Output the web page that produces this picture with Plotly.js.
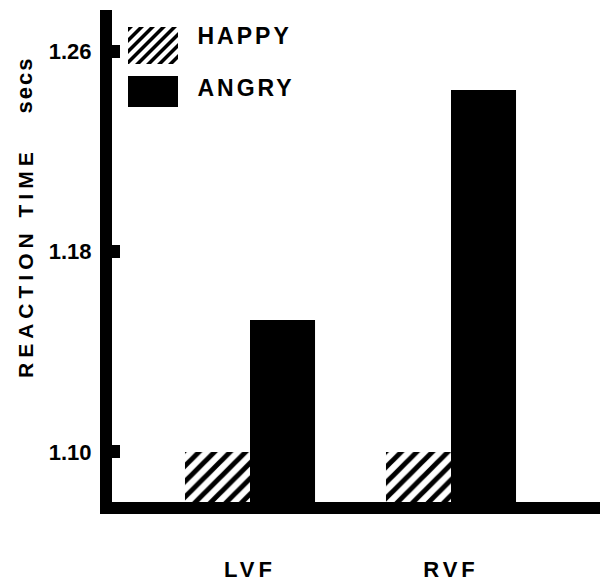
<!DOCTYPE html>
<html><head><meta charset="utf-8">
<script src="https://cdn.plot.ly/plotly-3.0.1.min.js"></script>
<style>
body{margin:0;background:#fff}
.xtick text{letter-spacing:4px}
g.annotation[data-index="0"] text{letter-spacing:5px}
g.annotation[data-index="1"] text{letter-spacing:2px}
g.annotation[data-index="2"] text{letter-spacing:3px}
g.annotation[data-index="3"] text{letter-spacing:3px}
</style></head><body>
<div id="chart" style="width:602px;height:583px"></div>
<script>
// ---- data ----
const categories = ['LVF', 'RVF'];
const seriesNames = ['HAPPY', 'ANGRY'];
const happyValues = [1.100, 1.100];
const angryValues = [1.1527, 1.2445];
const yTickValues = [1.10, 1.18, 1.26];
const yTickLabels = ['1.10', '1.18', '1.26'];
const yTitleMain = 'REACTION TIME';
const yTitleUnit = 'secs';

// ---- layout geometry ----
const W = 602, H = 583, L = 112, R = 2, T = 10, B = 81;
const PW = W - L - R, PH = H - T - B;
const px = X => (X - L) / PW;
const py = Y => (H - B - Y) / PH;
const FONT = 'Liberation Sans, Arial, Helvetica, sans-serif';

function clipHalf(poly, f) {
  const out = [];
  for (let i = 0; i < poly.length; i++) {
    const cur = poly[i], prev = poly[(i + poly.length - 1) % poly.length];
    const fc = f(cur), fp = f(prev);
    const inter = () => { const t = fp / (fp - fc); return [prev[0] + t * (cur[0] - prev[0]), prev[1] + t * (cur[1] - prev[1])]; };
    if (fc >= 0) { if (fp < 0) out.push(inter()); out.push(cur); }
    else if (fp >= 0) out.push(inter());
  }
  return out;
}
function hatchShapes(x0, y0, x1, y1, spacing, width) {
  const shapes = [];
  const rect = [[x0, y0], [x1, y0], [x1, y1], [x0, y1]];
  for (let c = x0 + y0 - spacing; c < x1 + y1; c += spacing) {
    let p = clipHalf(rect, q => q[0] + q[1] - c);
    if (p.length) p = clipHalf(p, q => c + width - (q[0] + q[1]));
    if (p.length < 3) continue;
    const d = p.map((q, i) => (i ? 'L' : 'M') + px(q[0]).toFixed(5) + ',' + py(q[1]).toFixed(5)).join(' ') + ' Z';
    shapes.push({type: 'path', xref: 'paper', yref: 'paper', path: d, fillcolor: 'black', line: {width: 0}, layer: 'above'});
  }
  return shapes;
}

const traces = [
  {type: 'bar', name: seriesNames[0], x: categories, y: happyValues,
   marker: {color: 'white', line: {width: 0},
            pattern: {shape: '/', size: 11, solidity: 0.45, fgcolor: 'black', bgcolor: 'white', fillmode: 'replace'}},
   hoverinfo: 'skip'},
  {type: 'bar', name: seriesNames[1], x: categories, y: angryValues,
   marker: {color: 'black', line: {width: 0}}, hoverinfo: 'skip'}
];

const shapes = [
  {type: 'rect', xref: 'paper', yref: 'paper', x0: px(128), x1: px(178), y0: py(107), y1: py(76), fillcolor: 'black', line: {width: 0}}
].concat(hatchShapes(128, 27, 178, 64, 11, 5));

const layout = {
  width: W, height: H,
  margin: {l: L, r: R, t: T, b: B, pad: 0},
  paper_bgcolor: 'white', plot_bgcolor: 'white',
  showlegend: false,
  barmode: 'group', bargap: 0.353, bargroupgap: 0,
  font: {family: FONT, color: 'black'},
  xaxis: {range: [-0.6866, 1.7413], showline: true, linewidth: 12, linecolor: 'black',
          showgrid: false, zeroline: false, ticks: '', fixedrange: true,
          tickfont: {family: FONT, size: 22, weight: 'bold', color: 'black'}, ticklabelstandoff: 37},
  yaxis: {range: [1.0800, 1.2764], showline: true, linewidth: 12, linecolor: 'black',
          showgrid: false, zeroline: false, ticks: 'inside', ticklen: 8, tickwidth: 13, tickcolor: 'black',
          tickvals: yTickValues, ticktext: yTickLabels, fixedrange: true,
          tickfont: {family: FONT, size: 22, weight: 'bold', color: 'black'}, ticklabelstandoff: 4},
  shapes: shapes,
  annotations: [
    {text: yTitleMain, xref: 'paper', yref: 'paper', x: px(24.5), y: py(263), textangle: -90, showarrow: false,
     xanchor: 'center', yanchor: 'middle', font: {family: FONT, size: 21, weight: 'bold', color: 'black'}},
    {text: yTitleUnit, xref: 'paper', yref: 'paper', x: px(23.5), y: py(85), textangle: -90, showarrow: false,
     xanchor: 'center', yanchor: 'middle', font: {family: FONT, size: 22, weight: 'bold', color: 'black'}},
    {text: seriesNames[0], xref: 'paper', yref: 'paper', x: px(203), y: py(36.5), showarrow: false,
     xanchor: 'left', yanchor: 'middle', font: {family: FONT, size: 23, weight: 'bold', color: 'black'}},
    {text: seriesNames[1], xref: 'paper', yref: 'paper', x: px(203), y: py(88), showarrow: false,
     xanchor: 'left', yanchor: 'middle', font: {family: FONT, size: 23, weight: 'bold', color: 'black'}}
  ]
};

Plotly.newPlot('chart', traces, layout, {displayModeBar: false, staticPlot: true});
</script>
</body></html>
